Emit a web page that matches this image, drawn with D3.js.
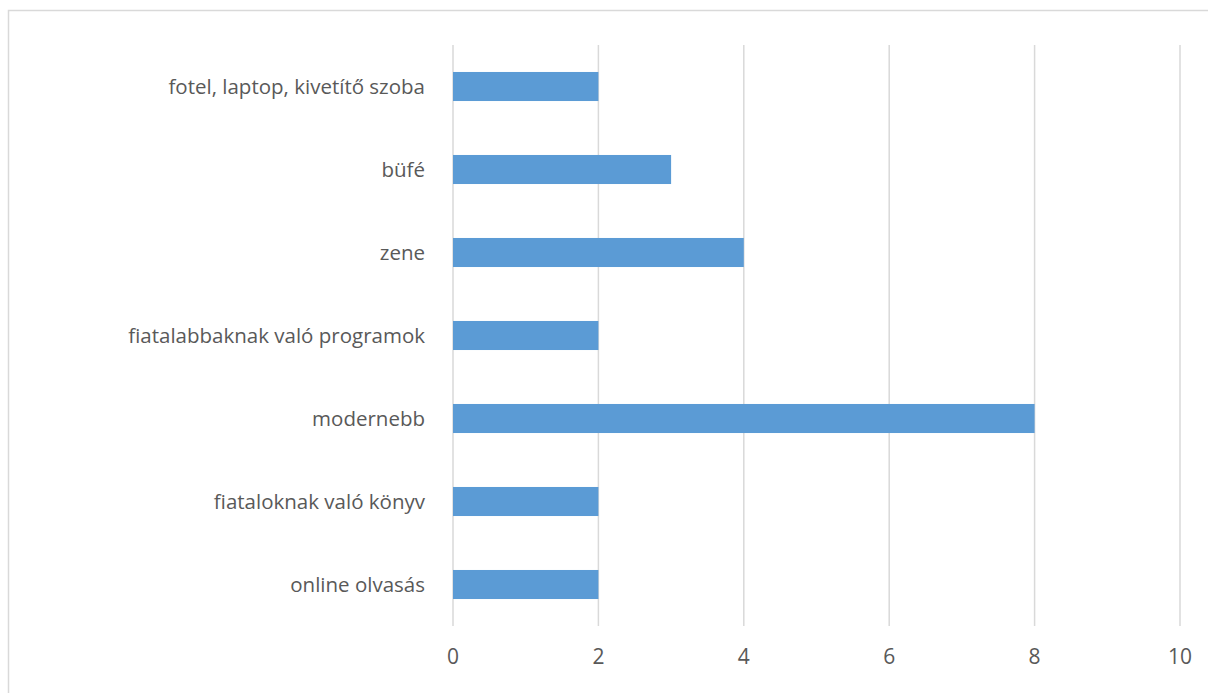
<!DOCTYPE html>
<html>
<head>
<meta charset="utf-8">
<script src="https://cdn.jsdelivr.net/npm/d3@7"></script>
<style>
  body { margin: 0; background: #fff; }
  text { font-family: "Open Sans", "Liberation Sans", sans-serif; fill: #595959; }
</style>
</head>
<body>
<div id="chart"></div>
<script>
// categories from top to bottom
var categories = ["fotel, laptop, kivetítő szoba", "büfé", "zene", "fiatalabbaknak való programok",
                  "modernebb", "fiataloknak való könyv", "online olvasás"];
var values = [2, 3, 4, 2, 8, 2, 2];
var ticks = [0, 2, 4, 6, 8, 10];

var W = 1208, H = 693;
var plotLeft = 453, plotRight = 1180, plotTop = 45, plotBottom = 626;

var svg = d3.select("#chart").append("svg")
  .attr("width", W)
  .attr("height", H);

// chart frame (runs past the window edge on the right / bottom)
svg.append("rect")
  .attr("x", 8.5).attr("y", 10.5)
  .attr("width", W + 20).attr("height", H + 20)
  .attr("fill", "#fff")
  .attr("stroke", "#d9d9d9")
  .attr("stroke-width", 1.5);

var x = d3.scaleLinear().domain([0, 10]).range([plotLeft, plotRight]);
var y = d3.scaleBand().domain(categories).range([plotTop, plotBottom]).paddingInner(0.65).paddingOuter(0.325);

// gridlines
svg.selectAll("line.grid")
  .data(ticks)
  .enter()
  .append("line")
  .attr("class", "grid")
  .attr("x1", function(d) { return x(d); })
  .attr("x2", function(d) { return x(d); })
  .attr("y1", plotTop)
  .attr("y2", plotBottom)
  .attr("stroke", "#d9d9d9")
  .attr("stroke-width", 1.5);

// bars
svg.selectAll("rect.bar")
  .data(values)
  .enter()
  .append("rect")
  .attr("class", "bar")
  .attr("x", x(0))
  .attr("y", function(d, i) { return y(categories[i]); })
  .attr("width", function(d) { return x(d) - x(0); })
  .attr("height", y.bandwidth())
  .attr("fill", "#5b9bd5");

// x tick labels
svg.selectAll("text.xt")
  .data(ticks)
  .enter()
  .append("text")
  .attr("class", "xt")
  .attr("x", function(d) { return x(d); })
  .attr("y", 664)
  .attr("text-anchor", "middle")
  .style("font-size", "21px")
  .text(function(d) { return d; });

// category labels
svg.selectAll("text.cat")
  .data(categories)
  .enter()
  .append("text")
  .attr("class", "cat")
  .attr("x", 425)
  .attr("y", function(d) { return y(d) + y.bandwidth() / 2; })
  .attr("dy", "0.35em")
  .attr("text-anchor", "end")
  .style("font-size", "20.5px")
  .text(function(d) { return d; });
</script>
</body>
</html>
